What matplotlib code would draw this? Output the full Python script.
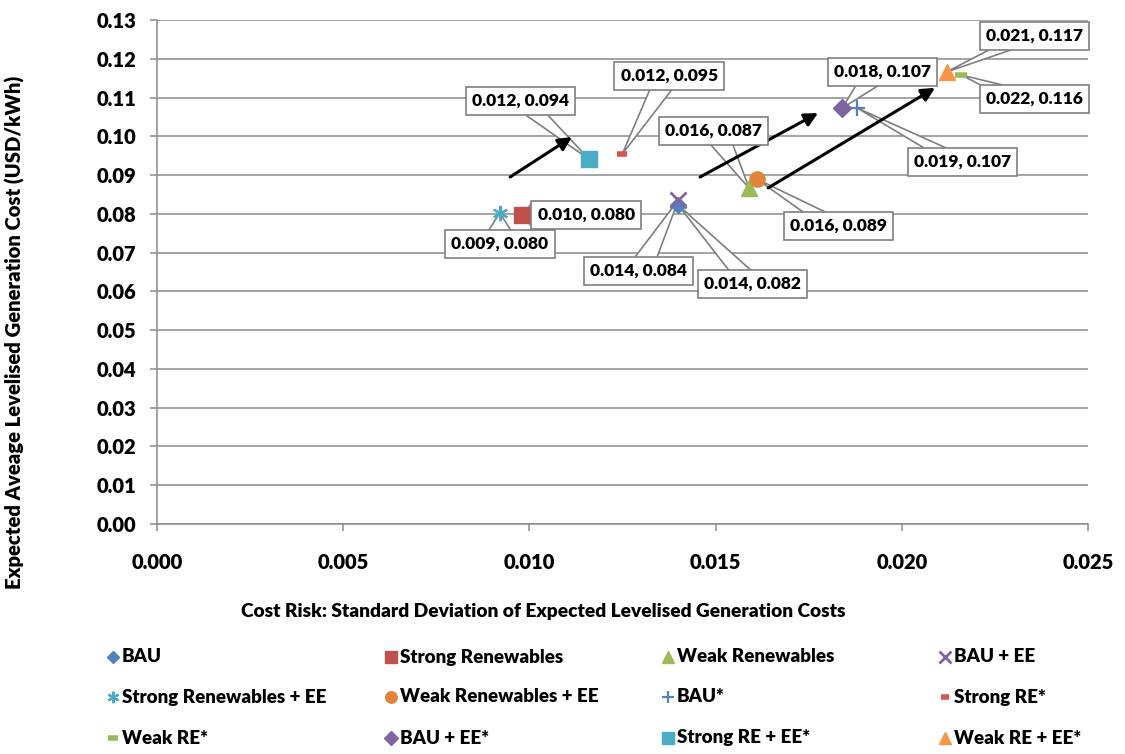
import matplotlib
matplotlib.use("Agg")
import numpy as np
import matplotlib.pyplot as plt
from matplotlib.lines import Line2D
from matplotlib.patches import Polygon

plt.rcParams['font.family'] = ['Lato', 'DejaVu Sans']
plt.rcParams['font.weight'] = 800
W = 800  # text weight used throughout

# Scenario results: cost risk (std. dev.) and expected average levelised cost
scenarios = ["BAU", "Strong Renewables", "Weak Renewables", "BAU + EE",
             "Strong Renewables + EE", "Weak Renewables + EE", "BAU*", "Strong RE*",
             "Weak RE*", "BAU + EE*", "Strong RE + EE*", "Weak RE + EE*"]
cost_risk = [0.0140, 0.0098, 0.0159, 0.0140,
             0.0092, 0.0161, 0.0188, 0.01249,
             0.0216, 0.0184, 0.0116, 0.0212]
avg_cost = [0.0822, 0.0797, 0.0866, 0.0836,
            0.0802, 0.0890, 0.1073, 0.0954,
            0.1158, 0.1073, 0.0941, 0.1166]

y_ticks = [0.00, 0.01, 0.02, 0.03, 0.04, 0.05, 0.06, 0.07, 0.08, 0.09, 0.10, 0.11, 0.12, 0.13]
x_ticks = [0.000, 0.005, 0.010, 0.015, 0.020, 0.025]

# marker styles per scenario
styles = [
    dict(marker='D', color='#4F81BD', ms=8),
    dict(marker='s', color='#C0504D', ms=11),
    dict(marker='^', color='#9BBB59', ms=11),
    dict(marker='x', color='#8064A2', ms=11, mew=2),
    dict(marker=(6, 2, 0), color='#4BACC6', ms=11, mew=1.6),
    dict(marker='o', color='#E0843C', ms=11),
    dict(marker='+', color='#4F81BD', ms=11, mew=1.6),
    dict(marker='_', color='#D9534F', ms=7, mew=4),
    dict(marker='_', color='#9BBB59', ms=9, mew=4),
    dict(marker='D', color='#8064A2', ms=9),
    dict(marker='s', color='#4BACC6', ms=11),
    dict(marker='^', color='#F79646', ms=12),
]

# callout box centres (data coords)
label_pos = [
    (0.01600, 0.0619), (0.01152, 0.0797), (0.01493, 0.1014), (0.01292, 0.0653),
    (0.00921, 0.0722), (0.01829, 0.0769), (0.02162, 0.0934), (0.01375, 0.1156),
    (0.02355, 0.1096), (0.01947, 0.1166), (0.00975, 0.1091), (0.02355, 0.1259),
]

# shift arrows (start, end) in data coords
shift_arrows = [
    ((0.00948, 0.0895), (0.01114, 0.0998)),
    ((0.01458, 0.0895), (0.01775, 0.1060)),
    ((0.01641, 0.0867), (0.02089, 0.1125)),
]

fig = plt.figure(figsize=(11.25, 7.54), dpi=100)
ax = fig.add_axes([0.1396, 0.305, 0.8276, 0.6685])

grid_c = '#8C8C8C'
ax.set_xlim(0, 0.025)
ax.set_ylim(0, 0.13)
ax.set_yticks(y_ticks)
ax.set_xticks(x_ticks)
ax.set_yticklabels([f"{v:.2f}" for v in y_ticks], fontweight=W)
ax.set_xticklabels([f"{v:.3f}" for v in x_ticks], fontweight=W)
ax.yaxis.grid(True, color=grid_c, lw=1.1)
ax.set_axisbelow(True)
for s in ['top', 'right']:
    ax.spines[s].set_visible(False)
for s in ['left', 'bottom']:
    ax.spines[s].set_color(grid_c)
    ax.spines[s].set_linewidth(1.1)
ax.tick_params(axis='both', direction='out', length=5, color=grid_c, width=1.1,
               labelsize=14.5)
ax.tick_params(axis='x', pad=16)
ax.tick_params(axis='y', pad=10)

for x, y, st in zip(cost_risk, avg_cost, styles):
    ax.plot([x], [y], linestyle='none', zorder=4, **st)

for (sx, sy), (ex, ey) in shift_arrows:
    ax.annotate('', xy=(ex, ey), xytext=(sx, sy), zorder=5,
                arrowprops=dict(arrowstyle='-|>', color='black', lw=2.2,
                                mutation_scale=20, shrinkA=0, shrinkB=0))

# value callout boxes
callouts = []
for x, y, (tx, ty) in zip(cost_risk, avg_cost, label_pos):
    t = ax.text(tx, ty, f"{x:.3f}, {y:.3f}", ha='center', va='center',
                fontsize=12.5, fontweight=W, zorder=7,
                bbox=dict(boxstyle='square,pad=0.35', fc='white', ec='#7F7F7F', lw=1.2))
    callouts.append(t)

# wedge pointer from each box edge to its marker
fig.canvas.draw()
to_axes = ax.transAxes.inverted()
half_base = 11.0  # pixels
for t, x, y in zip(callouts, cost_risk, avg_cost):
    bb = t.get_bbox_patch().get_window_extent()
    cx, cy = (bb.x0 + bb.x1) / 2, (bb.y0 + bb.y1) / 2
    px, py = ax.transData.transform((x, y))
    dx, dy = px - cx, py - cy
    # where the line centre->marker leaves the box
    sx = (bb.width / 2) / abs(dx) if dx else np.inf
    sy = (bb.height / 2) / abs(dy) if dy else np.inf
    s = min(sx, sy)
    ex, ey = cx + dx * s, cy + dy * s
    if sy <= sx:   # leaves through top/bottom edge
        b0 = (np.clip(ex - half_base, bb.x0 + 1, bb.x1 - 1), ey)
        b1 = (np.clip(ex + half_base, bb.x0 + 1, bb.x1 - 1), ey)
    else:          # leaves through left/right edge
        b0 = (ex, np.clip(ey - half_base, bb.y0 + 1, bb.y1 - 1))
        b1 = (ex, np.clip(ey + half_base, bb.y0 + 1, bb.y1 - 1))
    pts = to_axes.transform([b0, (px, py), b1])
    ax.add_patch(Polygon(pts, closed=False, transform=ax.transAxes, fc='white',
                         ec='#7F7F7F', lw=1.2, zorder=3.5, clip_on=False))

fig.text(543 / 1125, 1 - 612 / 754,
         "Cost Risk: Standard Deviation of Expected Levelised Generation Costs",
         ha='center', va='center', fontsize=13.8, fontweight=W)
fig.text(15 / 1125, 1 - 332 / 754, "Expected Aveage Levelised Generation Cost (USD/kWh)",
         ha='center', va='center', rotation=90, fontsize=14.6, fontweight=W)

# legend, laid out row by row in four columns
col_x = [113, 391, 668, 945]
row_y = [657, 697, 738]
for i, (name, st) in enumerate(zip(scenarios, styles)):
    r, c = divmod(i, 4)
    mx = col_x[c] / 1125
    my = 1 - row_y[r] / 754
    st = dict(st)
    ms = st.pop('ms') * 0.75
    fig.add_artist(Line2D([mx], [my], transform=fig.transFigure, linestyle='none',
                          ms=ms, **st))
    fig.text(mx + 9 / 1125, my, name, ha='left', va='center', fontsize=13.5,
             fontweight=W)

fig.savefig("out.png", dpi=100)
